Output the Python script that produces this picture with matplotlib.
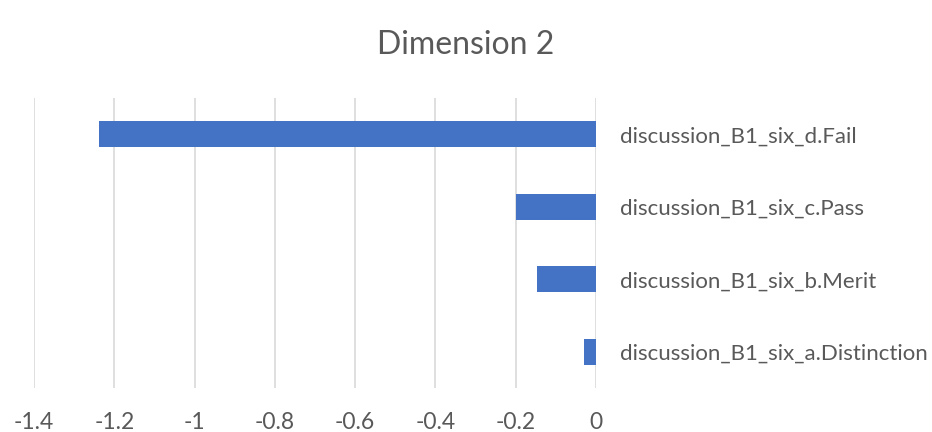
import matplotlib.pyplot as plt

plt.rcParams['font.family'] = ['Lato', 'DejaVu Sans']

# categories listed bottom to top
categories = ['discussion_B1_six_a.Distinction', 'discussion_B1_six_b.Merit',
              'discussion_B1_six_c.Pass', 'discussion_B1_six_d.Fail']
values = [-0.03, -0.146, -0.2, -1.238]
x_ticks = [-1.4, -1.2, -1.0, -0.8, -0.6, -0.4, -0.2, 0.0]
x_tick_labels = ['-1.4', '-1.2', '-1', '-0.8', '-0.6', '-0.4', '-0.2', '0']

fig = plt.figure(figsize=(9.32, 4.32), dpi=100)
ax = fig.add_axes([34 / 932, 1 - 388 / 432, (596 - 34) / 932, (388 - 98) / 432])

ax.barh(range(len(categories)), values, height=0.36, color='#4472C4', zorder=3)
ax.set_xlim(-1.4, 0)
ax.set_ylim(-0.5, len(categories) - 0.5)

ax.set_xticks(x_ticks)
ax.set_xticklabels(x_tick_labels)
ax.grid(axis='x', color='#d9d9d9', linewidth=1.2, zorder=0)
ax.xaxis.set_tick_params(length=0, pad=17, labelsize=16.5, labelcolor='#595959')

ax.yaxis.tick_right()
ax.set_yticks(range(len(categories)))
ax.set_yticklabels(categories)
ax.yaxis.set_tick_params(length=0, pad=17, labelsize=16, labelcolor='#595959')

for s in ax.spines.values():
    s.set_visible(False)

fig.text(0.5, 1 - 45 / 432, 'Dimension 2', ha='center', va='center',
         fontsize=23, color='#595959')

fig.savefig('out.png', dpi=100)
